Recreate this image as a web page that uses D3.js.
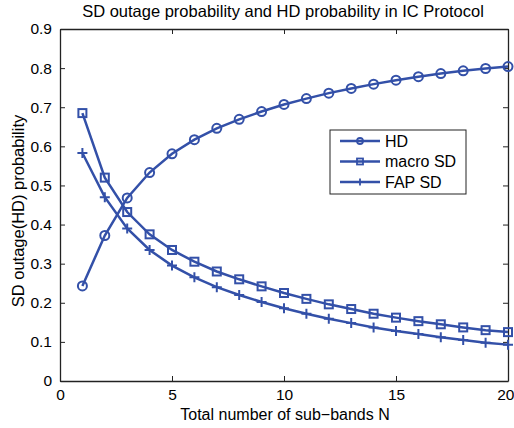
<!DOCTYPE html>
<html>
<head>
<meta charset="utf-8">
<script src="https://cdn.jsdelivr.net/npm/d3@7"></script>
<style>
  body { margin: 0; background: #fff; }
  text { font-family: "Liberation Sans", Arial, sans-serif; fill: #000; }
</style>
</head>
<body>
<svg id="chart" width="514" height="428"></svg>
<script>
var nValues = d3.range(1, 21);
var hdValues = [0.243, 0.372, 0.468, 0.533, 0.581, 0.617, 0.646, 0.669, 0.689, 0.707,
                0.722, 0.736, 0.748, 0.759, 0.769, 0.778, 0.786, 0.793, 0.799, 0.804];
var macroValues = [0.685, 0.52, 0.432, 0.375, 0.335, 0.305, 0.28, 0.26, 0.242, 0.225,
                   0.21, 0.196, 0.184, 0.172, 0.162, 0.153, 0.145, 0.137, 0.13, 0.125];
var fapValues = [0.583, 0.47, 0.39, 0.335, 0.295, 0.265, 0.24, 0.22, 0.202, 0.186,
                 0.172, 0.159, 0.148, 0.137, 0.128, 0.12, 0.112, 0.105, 0.098, 0.093];
var seriesNames = ["HD", "macro SD", "FAP SD"];
var xTicks = [0, 5, 10, 15, 20];
var yTicks = [0, 0.1, 0.2, 0.3, 0.4, 0.5, 0.6, 0.7, 0.8, 0.9];

var svg = d3.select("#chart"),
    margin = {top: 29, right: 6, bottom: 47, left: 60},
    width = 514 - margin.left - margin.right,
    height = 428 - margin.top - margin.bottom,
    blue = "#3350a8";

var g = svg.append("g").attr("transform", "translate(" + margin.left + "," + margin.top + ")");

var x = d3.scaleLinear().domain([0, 20]).range([0, width]);
var y = d3.scaleLinear().domain([0, 0.9]).range([height, 0]);

// axes, matlab style ticks inside on all four sides
var xAxisG = g.append("g")
  .attr("transform", "translate(0," + height + ")")
  .call(d3.axisBottom(x).tickValues(xTicks).tickSizeInner(-5).tickSizeOuter(0).tickPadding(8).tickFormat(d3.format("d")));
// last label sits on the window edge, keep it inside
xAxisG.selectAll(".tick text").filter(function (d) { return d === 20; })
  .attr("text-anchor", "end").attr("x", 6);
g.append("g")
  .call(d3.axisTop(x).tickValues(xTicks).tickSizeInner(-5).tickSizeOuter(0).tickFormat(""));
g.append("g")
  .call(d3.axisLeft(y).tickValues(yTicks).tickSizeInner(-5).tickSizeOuter(0).tickPadding(8)
    .tickFormat(function (d) { return d === 0 ? "0" : d3.format(".1f")(d); }));
g.append("g")
  .attr("transform", "translate(" + width + ",0)")
  .call(d3.axisRight(y).tickValues(yTicks).tickSizeInner(-5).tickSizeOuter(0).tickFormat(""));

g.selectAll(".domain").attr("stroke", "#222").attr("stroke-width", 1.3);
g.selectAll(".tick line").attr("stroke", "#222");
g.selectAll(".tick text").style("font-size", "15.5px").attr("fill", "#000");

var series = [
  {name: seriesNames[0], values: hdValues, marker: "circle"},
  {name: seriesNames[1], values: macroValues, marker: "square"},
  {name: seriesNames[2], values: fapValues, marker: "plus"}
];

var line = d3.line()
  .x(function (d, i) { return x(nValues[i]); })
  .y(function (d) { return y(d); });

function drawMarker(sel, type) {
  if (type === "circle") {
    sel.append("circle").attr("r", 4.5).attr("fill", "#fff").attr("fill-opacity", 0)
      .attr("stroke", blue).attr("stroke-width", 2);
  } else if (type === "square") {
    sel.append("rect").attr("x", -4).attr("y", -4).attr("width", 8).attr("height", 8)
      .attr("fill", "none").attr("stroke", blue).attr("stroke-width", 2);
  } else {
    sel.append("path").attr("d", "M-5,0H5M0,-5V5").attr("stroke", blue).attr("stroke-width", 2);
  }
}

series.forEach(function (s) {
  g.append("path")
    .attr("d", line(s.values))
    .attr("fill", "none")
    .attr("stroke", blue)
    .attr("stroke-width", 2.5);
  s.values.forEach(function (v, i) {
    var m = g.append("g").attr("transform", "translate(" + x(nValues[i]) + "," + y(v) + ")");
    drawMarker(m, s.marker);
  });
});

// legend
var legend = g.append("g").attr("transform", "translate(" + (330 - margin.left) + "," + (130 - margin.top) + ")");
legend.append("rect")
  .attr("width", 136).attr("height", 64)
  .attr("fill", "#fff").attr("stroke", "#222").attr("stroke-width", 1);
series.forEach(function (s, i) {
  var ly = 11 + i * 20.5;
  legend.append("path").attr("d", "M10," + ly + "H50").attr("stroke", blue).attr("stroke-width", 2.5);
  var m = legend.append("g").attr("transform", "translate(30," + ly + ")");
  if (s.marker === "circle") {
    m.append("circle").attr("r", 3).attr("fill", "none").attr("stroke", blue).attr("stroke-width", 1.8);
  } else if (s.marker === "square") {
    m.append("rect").attr("x", -3).attr("y", -3).attr("width", 6).attr("height", 6)
      .attr("fill", "none").attr("stroke", blue).attr("stroke-width", 1.8);
  } else {
    m.append("path").attr("d", "M0,-3.5V3.5").attr("stroke", blue).attr("stroke-width", 1.8);
  }
  legend.append("text").attr("x", 55).attr("y", ly).attr("dy", "0.35em")
    .style("font-size", "16px").text(s.name);
});

// titles
svg.append("text")
  .attr("x", 283).attr("y", 17)
  .attr("text-anchor", "middle").style("font-size", "16.5px")
  .text("SD outage probability and HD probability in IC Protocol");
svg.append("text")
  .attr("x", 285).attr("y", 420)
  .attr("text-anchor", "middle").style("font-size", "16px")
  .text("Total number of sub\u2212bands N");
svg.append("text")
  .attr("transform", "translate(24,211) rotate(-90)")
  .attr("text-anchor", "middle").style("font-size", "16.5px")
  .text("SD outage(HD) probability");
</script>
</body>
</html>
